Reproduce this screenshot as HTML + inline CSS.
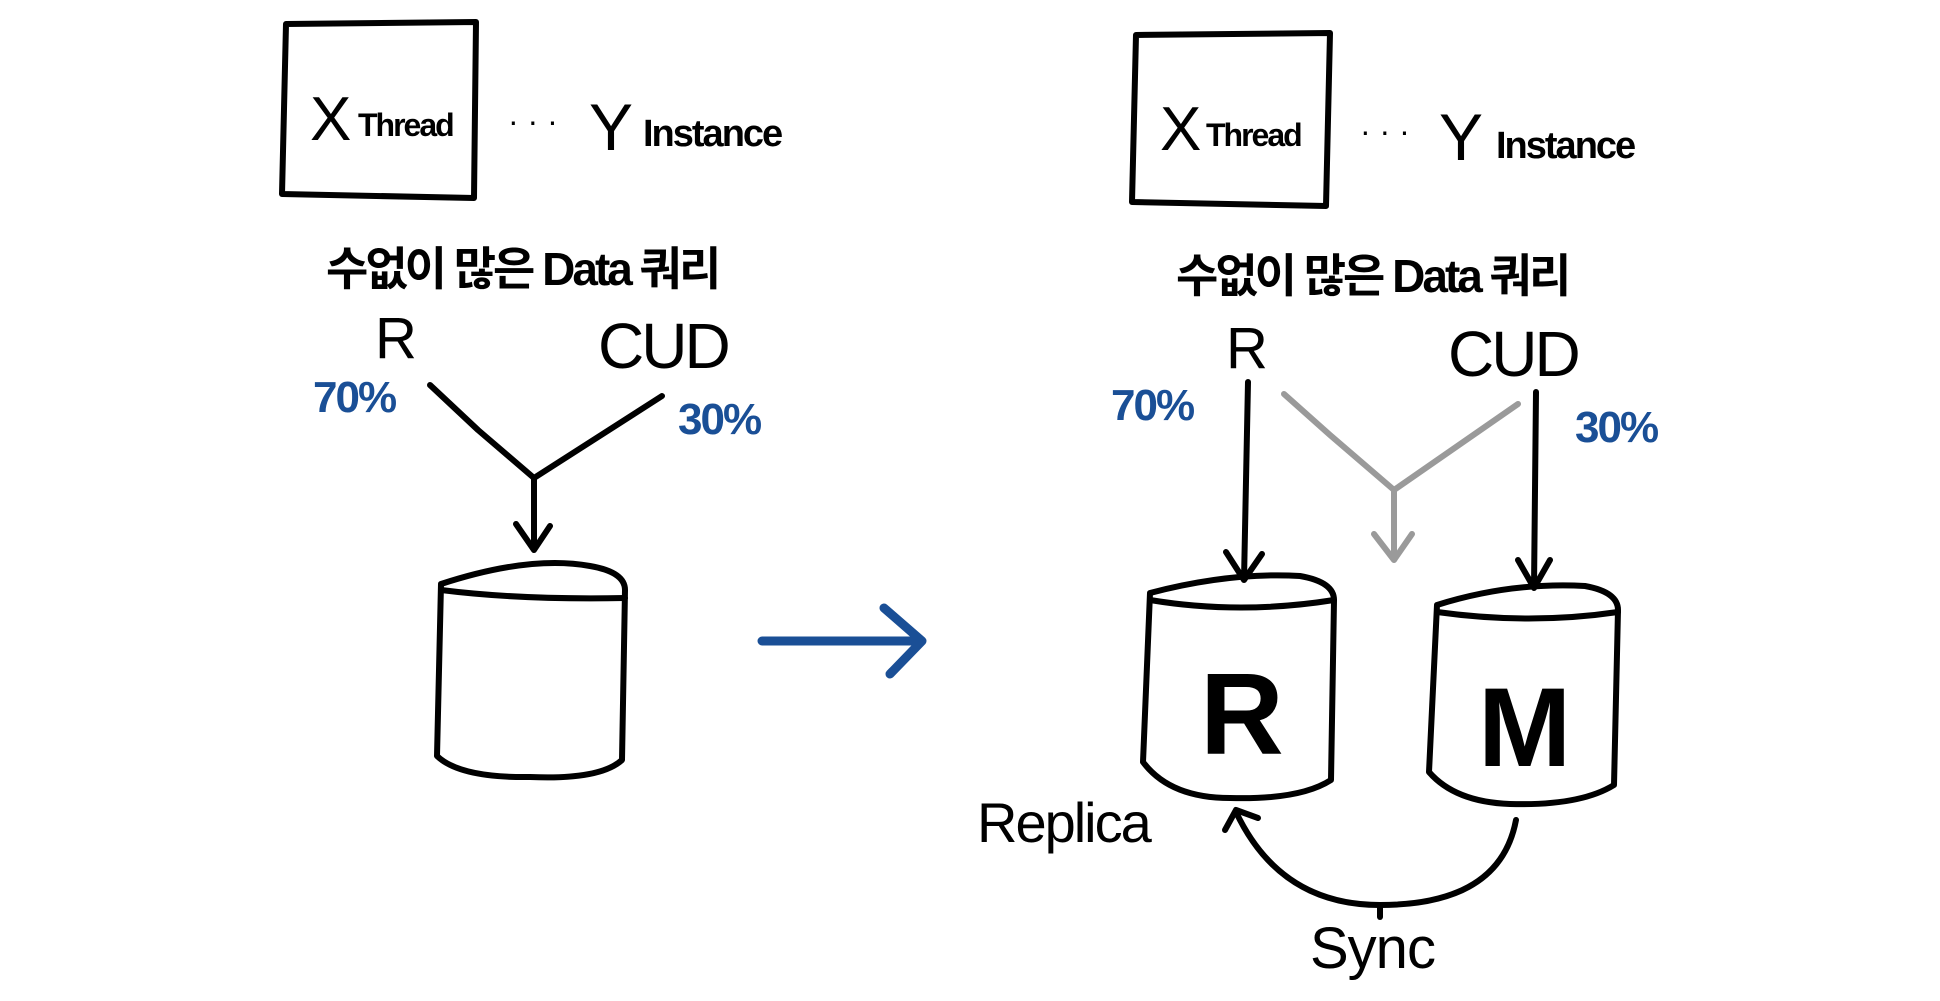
<!DOCTYPE html>
<html><head><meta charset="utf-8"><style>
html,body{margin:0;padding:0;background:#fff;}
svg{display:block;}
text{font-family:"Liberation Sans","Noto Sans CJK KR",sans-serif;fill:#000;}
.b{fill:#1a4f96;}
</style></head><body>
<svg width="1940" height="1001" viewBox="0 0 1940 1001" xmlns="http://www.w3.org/2000/svg">
<g fill="none" stroke="#000" stroke-width="6" stroke-linecap="round" stroke-linejoin="round">
<!-- left box -->
<path d="M286 24 L476 22 L474 198 L282 194 Z"/>
<!-- left Y connector -->
<path d="M430 385 L478 430 L534 478 L662 396"/>
<path d="M534 478 L534 550 M516 524 L534 550 L550 526"/>
<!-- left cylinder -->
<path d="M441 584 Q530 555 590 566 Q625 572 625 590 L622 760 Q600 780 530 777 Q460 778 437 756 L441 584 Z"/>
<path d="M441 590 Q520 600 625 598"/>
<!-- right box -->
<path d="M1136 35 L1330 33 L1326 206 L1132 202 Z"/>
<!-- black arrows -->
<path d="M1248 382 L1244 580 M1226 552 L1244 580 L1262 554"/>
<path d="M1536 392 L1534 588 M1518 560 L1534 588 L1550 560"/>
<!-- cylinder R -->
<path d="M1150 593 Q1230 572 1300 576 Q1334 582 1334 600 L1331 780 Q1300 800 1230 798 Q1170 798 1143 762 L1150 593 Z"/>
<path d="M1150 600 Q1240 615 1334 600"/>
<!-- cylinder M -->
<path d="M1437 605 Q1510 582 1585 586 Q1618 592 1618 610 L1614 785 Q1580 806 1510 804 Q1455 802 1429 772 L1437 605 Z"/>
<path d="M1437 612 Q1530 625 1618 612"/>
<!-- sync arc -->
<path d="M1516 820 Q1500 905 1380 905 Q1280 905 1236 812"/>
<path d="M1225 830 L1236 810 L1258 818"/>
<path d="M1380 905 L1380 917"/>
</g>
<g fill="none" stroke="#9a9a9a" stroke-width="6" stroke-linecap="round" stroke-linejoin="round">
<path d="M1284 394 L1330 435 L1394 490 L1518 404"/>
<path d="M1394 490 L1394 560 M1374 534 L1394 560 L1412 534"/>
</g>
<g fill="none" stroke="#1a4f96" stroke-width="9" stroke-linecap="round" stroke-linejoin="round">
<path d="M762 641 L922 641 M884 608 L922 641 L890 674"/>
</g>
<!-- left texts -->
<text x="310" y="140" font-size="62">X</text>
<text x="358" y="136" font-size="32" font-weight="bold" letter-spacing="-2">Thread</text>
<text x="508" y="132" font-size="32">· · ·</text>
<text x="589" y="150" font-size="66">Y</text>
<text x="643" y="146" font-size="38" font-weight="bold" letter-spacing="-2">Instance</text>
<text x="326" y="285" font-size="46" font-weight="bold" letter-spacing="-3">수없이 많은 Data 쿼리</text>
<text x="375" y="358" font-size="58">R</text>
<text x="598" y="368" font-size="64" letter-spacing="-3">CUD</text>
<text class="b" x="313" y="412" font-size="44" font-weight="bold" letter-spacing="-2">70%</text>
<text class="b" x="678" y="434" font-size="44" font-weight="bold" letter-spacing="-2">30%</text>
<!-- right texts -->
<text x="1160" y="150" font-size="62">X</text>
<text x="1206" y="146" font-size="32" font-weight="bold" letter-spacing="-2">Thread</text>
<text x="1360" y="142" font-size="32">· · ·</text>
<text x="1439" y="160" font-size="66">Y</text>
<text x="1496" y="158" font-size="38" font-weight="bold" letter-spacing="-2">Instance</text>
<text x="1176" y="292" font-size="46" font-weight="bold" letter-spacing="-3">수없이 많은 Data 쿼리</text>
<text x="1226" y="368" font-size="58">R</text>
<text x="1448" y="376" font-size="64" letter-spacing="-3">CUD</text>
<text class="b" x="1111" y="420" font-size="44" font-weight="bold" letter-spacing="-2">70%</text>
<text class="b" x="1575" y="442" font-size="44" font-weight="bold" letter-spacing="-2">30%</text>
<text x="1200" y="754" font-size="116" font-weight="bold">R</text>
<text x="1478" y="766" font-size="112" font-weight="bold">M</text>
<text x="977" y="842" font-size="56" letter-spacing="-2">Replica</text>
<text x="1310" y="968" font-size="58" letter-spacing="-1">Sync</text>
</svg>
</body></html>
